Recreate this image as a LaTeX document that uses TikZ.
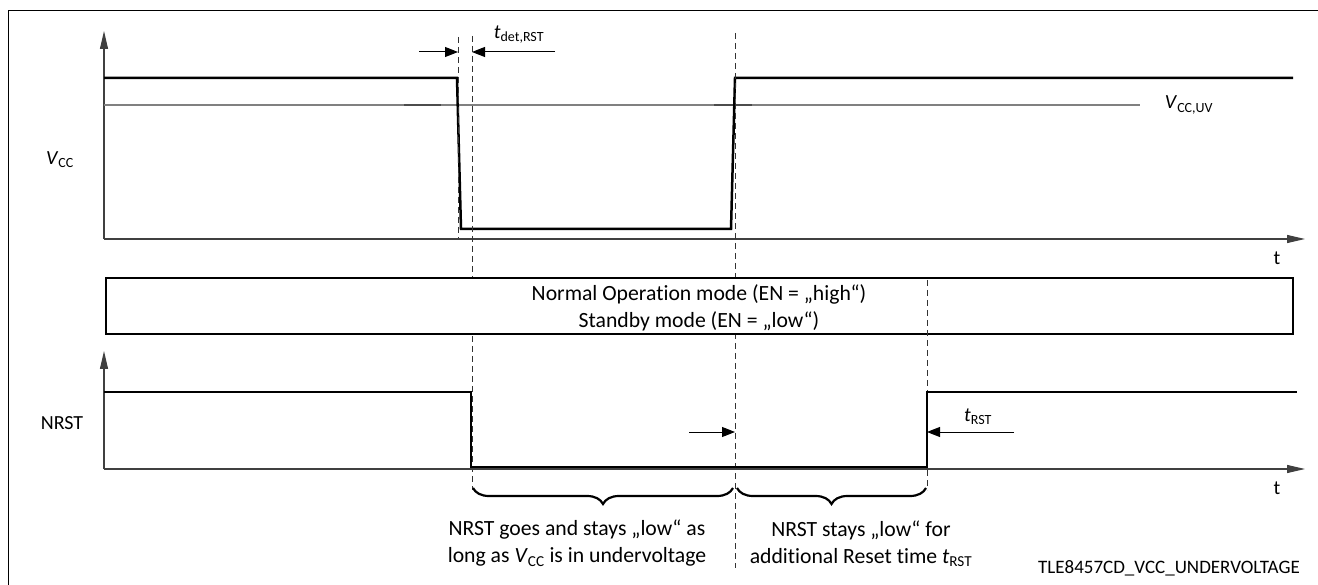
\documentclass[tikz,border=0pt]{standalone}
\usepackage{fontspec}
\setmainfont{Carlito}[Ligatures=NoCommon]
\usetikzlibrary{arrows.meta,decorations.pathreplacing}
\begin{document}
\begin{tikzpicture}[x=1pt,y=-1pt,
  every node/.style={inner sep=0pt,font=\fontsize{20}{27}\selectfont},
  bigtext/.style={align=center,font=\fontsize{21.7}{27}\selectfont},
  idtext/.style={font=\fontsize{19}{27}\selectfont},
  sig/.style={line width=2.5pt,line join=miter},
  axisline/.style={line width=1.1pt,draw=black!75,-{Triangle[length=18pt,width=8pt]}},
  dline/.style={line width=0.9pt,draw=black!80,dash pattern=on 6pt off 4pt},
  dimarrow/.style={line width=1pt,-{Triangle[length=13pt,width=10pt]}},
  uvline/.style={line width=1.5pt,draw=black!50},
  bracestyle/.style={line width=2.2pt,decorate,decoration={brace,mirror,amplitude=16pt}}
]
\useasboundingbox (0,0) rectangle (1318,585);
% frame
\draw[line width=1pt] (8,585) -- (8,11) -- (1318,11);
% VCC axes
\draw[axisline] (104,239) -- (104,31);
\draw[axisline] (104,239) -- (1305,239);
% UV threshold
\draw[uvline] (104,105) -- (1140,105);
\draw[line width=1.5pt,draw=black!70] (404,105) -- (441,105);
\draw[line width=1.5pt,draw=black!70] (714,105) -- (752,105);
% VCC signal
\draw[sig] (104,78) -- (457,78) -- (461,229) -- (731,229) -- (735,78) -- (1293,78);
% dashed markers (below the mode box)
\draw[dline] (458,37) -- (458,238);
\draw[dline] (472,36) -- (472,490);
\draw[dline] (735,33) -- (735,568);
% mode box
\draw[line width=2.5pt,fill=white] (106,278) rectangle (1293,334);
\draw[dline] (927,280) -- (927,490);
% NRST axes
\draw[axisline] (104,469) -- (104,351);
\draw[axisline] (104,469) -- (1305,469);
% NRST signal
\draw[sig] (104,392) -- (471,392) -- (471,467) -- (927,467) -- (927,392) -- (1297,392);
% dimension arrows
\draw[dimarrow] (419,52) -- (458,52);
\draw[dimarrow] (555,52) -- (472,52);
\draw[dimarrow] (689,432) -- (735,432);
\draw[dimarrow] (1014,432) -- (927,432);
% braces
\draw[bracestyle] (473,488) -- (733,488);
\draw[bracestyle] (737,488) -- (926,488);
% labels
\node (vcc) at (60,160) {\textit{V}\textsubscript{CC}};
\node (nrst) at (62,423) {NRST};
\node (vuv) at (1189,105) {\textit{V}\textsubscript{CC,UV}};
\node (t1) at (1277,258) {t};
\node (t2) at (1277,488) {t};
\node (tdet) at (519,35) {\textit{t}\textsubscript{det,RST}};
\node (trst) at (978,417) {\textit{t}\textsubscript{RST}};
\node[bigtext] (mode) at (699,307.5) {Normal Operation mode (EN = „high“)\\Standby mode (EN = „low“)};
\node[bigtext] (txt1) at (577,543.5) {NRST goes and stays „low“ as\\long as \textit{V}\textsubscript{CC} is in undervoltage};
\node[bigtext] (txt2) at (861,543.5) {NRST stays „low“ for\\additional Reset time \textit{t}\textsubscript{RST}};
\node[idtext] (id) at (1169,568) {TLE8457CD\_VCC\_UNDERVOLTAGE};
\end{tikzpicture}
\end{document}
